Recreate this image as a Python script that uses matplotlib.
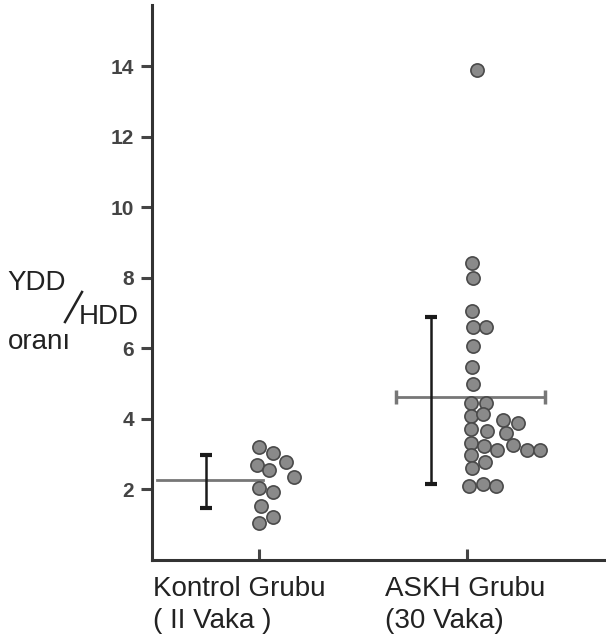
import matplotlib
matplotlib.use("Agg")
import matplotlib.pyplot as plt
from matplotlib.lines import Line2D

# values (YDD/HDD ratio per case)
groups = ["Kontrol Grubu", "ASKH Grubu"]
group_sub = ["( II Vaka )", "(30 Vaka)"]

ctrl_vals = [3.19, 3.02, 2.68, 2.77, 2.54, 2.34, 2.03, 1.94, 1.52, 1.06, 1.21]
ctrl_dx = [0.0, 0.07, -0.01, 0.13, 0.05, 0.17, 0.0, 0.07, 0.01, 0.0, 0.07]

askh_vals = [13.89, 8.41, 7.99, 7.05, 6.60, 6.60, 6.06, 5.46, 4.98, 4.44,
             4.44, 4.07, 4.13, 3.96, 3.87, 3.70, 3.65, 3.59, 3.33, 3.22,
             3.13, 3.25, 3.13, 3.13, 2.99, 2.60, 2.77, 2.09, 2.14, 2.11]
askh_dx = [0.048, 0.024, 0.029, 0.024, 0.029, 0.091, 0.029, 0.024, 0.029, 0.019,
           0.091, 0.019, 0.077, 0.173, 0.245, 0.019, 0.096, 0.188, 0.019, 0.082,
           0.144, 0.221, 0.288, 0.351, 0.019, 0.024, 0.087, 0.010, 0.077, 0.139]

# mean and range bars: [mean, low, high]
ctrl_stats = [2.26, 1.46, 2.99]
askh_stats = [4.61, 2.14, 6.88]

yticks = [2, 4, 6, 8, 10, 12, 14]

plt.rcParams['font.family'] = ['Liberation Sans', 'DejaVu Sans']

fig = plt.figure(figsize=(6.06, 6.40), dpi=100)
ax = fig.add_axes([152/606, 80/640, 454/606, 555/640])

dot = dict(marker='o', ls='none', ms=9.5, mfc='#8a8a8a', mec='#4a4a4a', mew=1.2, zorder=3)
ax.plot([1 + d for d in ctrl_dx], ctrl_vals, **dot)
ax.plot([2 + d for d in askh_dx], askh_vals, **dot)

# vertical range bars
for xpos, st in [(0.745, ctrl_stats), (1.83, askh_stats)]:
    ax.errorbar(xpos, st[0], yerr=[[st[0] - st[1]], [st[2] - st[0]]], fmt='none',
                ecolor='#1a1a1a', elinewidth=1.8, capsize=4.3, capthick=3, zorder=2)

# mean lines
ax.plot([0.51, 1.02], [ctrl_stats[0]] * 2, color='#777777', lw=2, zorder=1)
ax.plot([1.66, 2.375], [askh_stats[0]] * 2, color='#777777', lw=2,
        marker='|', ms=10, mew=2.5, zorder=1)

ax.set_xlim(0.486, 2.67)
ax.set_ylim(0, 15.73)

for s in ['top', 'right']:
    ax.spines[s].set_visible(False)
for s in ['left', 'bottom']:
    ax.spines[s].set_linewidth(2.2)
    ax.spines[s].set_color('#333333')

ax.set_yticks(yticks)
ax.set_yticklabels([str(t) for t in yticks], fontsize=15, fontweight='bold', color='#444444')
ax.tick_params(axis='y', direction='out', length=8, width=2.2, color='#444444', pad=5)
ax.set_xticks([1, 2])
ax.set_xticklabels([])
ax.tick_params(axis='x', direction='in', length=8, width=2.2, color='#444444')

# group labels below the axis
tr = ax.get_xaxis_transform()
for xl, name, sub in zip([0.49, 1.606], groups, group_sub):
    ax.text(xl, -0.064, name, transform=tr, ha='left', va='baseline', fontsize=20, color='#222222')
    ax.text(xl, -0.123, sub, transform=tr, ha='left', va='baseline', fontsize=20, color='#222222')

# y label: YDD / HDD oranı
fig.text(7/606, 1 - 290/640, "YDD", fontsize=20, color='#222222', va='baseline')
fig.add_artist(Line2D([65/606, 82/606], [1 - 322/640, 1 - 292/640],
                      transform=fig.transFigure, color='#222222', lw=1.8))
fig.text(79/606, 1 - 324/640, "HDD", fontsize=20, color='#222222', va='baseline')
fig.text(8/606, 1 - 349/640, "oranı", fontsize=20, color='#222222', va='baseline')

fig.savefig('out.png', dpi=100)
